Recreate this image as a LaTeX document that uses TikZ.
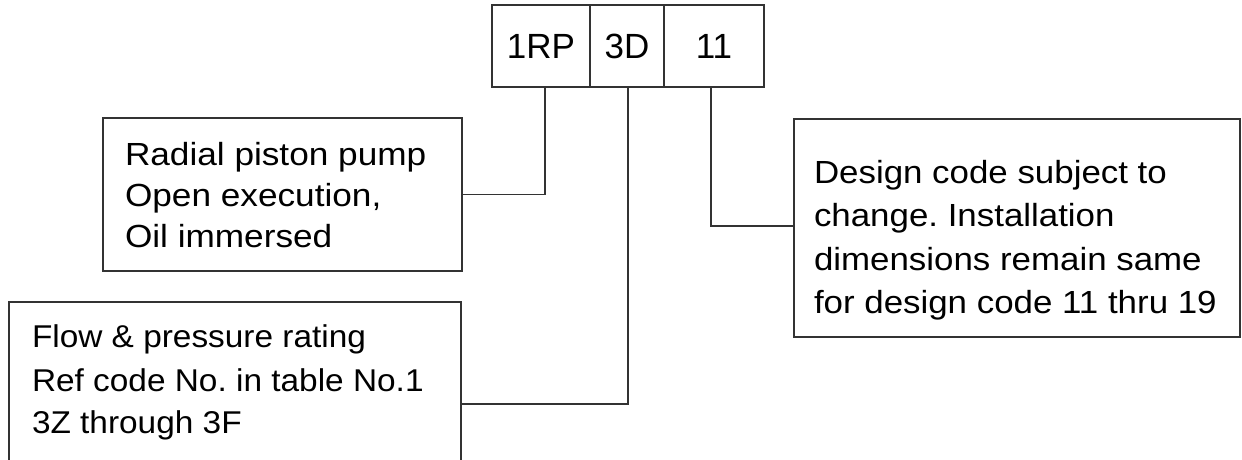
\documentclass[tikz,border=0pt]{standalone}
\usepackage{fontspec}
\setmainfont{Liberation Sans}
\frenchspacing
\begin{document}
\begin{tikzpicture}[x=1pt,y=-1pt,
  frame/.style={draw=black!80,line width=1.1pt,rectangle,inner sep=0pt,outer sep=0pt,anchor=north west},
  cell/.style={frame,minimum height=82pt,font=\fontsize{35}{40}\selectfont},
  txt/.style={inner sep=0pt,outer sep=0pt,anchor=base west,font=\fontsize{32}{40}\selectfont},
  ltxt/.style={inner sep=0pt,outer sep=0pt,anchor=base west,font=\fontsize{31.5}{40}\selectfont},
  rtxt/.style={inner sep=0pt,outer sep=0pt,anchor=base west,font=\fontsize{32}{40}\selectfont},
  link/.style={draw=black!80,line width=1.1pt}]
\useasboundingbox (0,0) rectangle (1242,459);
\clip (0,0) rectangle (1242,459);
% code cells
\node[cell,minimum width=98pt] (c1) at (492,5) {1RP};
\node[cell,minimum width=74pt] (c2) at (590,5) {3D};
\node[cell,minimum width=100pt] (c3) at (664,5) {11};
% boxes
\node[frame,minimum width=359pt,minimum height=153pt] (b1) at (103,118) {};
\node[frame,minimum width=452pt,minimum height=180pt] (b2) at (9,302) {};
\node[frame,minimum width=446pt,minimum height=218pt] (b3) at (794,119) {};
% texts
\node[txt] (t11) at (125,165) {\scalebox{1.1}[1]{Radial piston pump}};
\node[txt] (t12) at (125,206) {\scalebox{1.1}[1]{Open execution,}};
\node[txt] (t13) at (125,247) {\scalebox{1.1}[1]{Oil immersed}};
\node[ltxt] (t21) at (32,347) {\scalebox{1.06}[1]{Flow \& pressure rating}};
\node[ltxt] (t22) at (32,391) {\scalebox{1.06}[1]{Ref code No. in table No.1}};
\node[ltxt] (t23) at (32,433) {\scalebox{1.06}[1]{3Z through 3F}};
\node[rtxt] (t31) at (814,183) {\scalebox{1.09}[1]{Design code subject to}};
\node[rtxt] (t32) at (814,226) {\scalebox{1.09}[1]{change. Installation}};
\node[rtxt] (t33) at (814,270) {\scalebox{1.09}[1]{dimensions remain same}};
\node[rtxt] (t34) at (814,313) {\scalebox{1.09}[1]{for design code 11 thru 19}};
% connectors
\draw[link] ([xshift=4pt]c1.south) |- (b1.east);
\draw[link] ([xshift=1pt]c2.south) |- ([yshift=-102pt]b2.north east);
\draw[link] ([xshift=-3pt]c3.south) |- ([yshift=2pt]b3.west);
\end{tikzpicture}
\end{document}
